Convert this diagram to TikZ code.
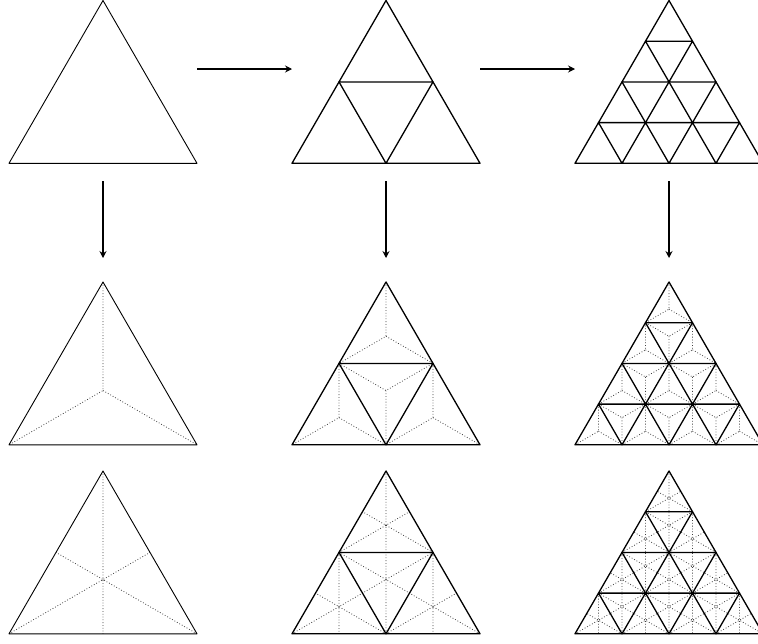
\documentclass[tikz,border=0pt]{standalone}
\usetikzlibrary{calc,arrows.meta}
\tikzset{
  edgeA/.style={line width=0.9pt, line join=round},
  edgeB/.style={line width=1.3pt, line join=round},
  dots/.style={dotted, line width=0.8pt, black!75},
  arr/.style={line width=1.4pt, -{Stealth[length=7pt,width=7pt,inset=2.5pt]}}
}
\newcommand\smalltri[7]{%
  \coordinate (p1) at (#1,#2);
  \coordinate (p2) at (#3,#4);
  \coordinate (p3) at (#5,#6);
  \ifcase#7\relax
  \or
    \draw[dots] (p1) -- (barycentric cs:p1=1,p2=1,p3=1) -- (p2)
                (barycentric cs:p1=1,p2=1,p3=1) -- (p3);
  \or
    \draw[dots] (p1) -- ($(p2)!0.5!(p3)$) (p2) -- ($(p1)!0.5!(p3)$)
                (p3) -- ($(p1)!0.5!(p2)$);
  \fi
}
% #1 apex x, #2 apex y, #3 n, #4 mode, #5 style of outline
\newcommand\mesh[5]{%
  \pgfmathsetmacro\mT{188/#3}%
  \pgfmathsetmacro\mG{162.8/#3}%
  \pgfmathtruncatemacro\nm{#3-1}%
  \foreach \i in {0,...,\nm}{%
    \foreach \j in {0,...,\i}{%
      \pgfmathsetmacro\mAx{#1+(\j-\i/2)*\mT}%
      \pgfmathsetmacro\mAy{#2+\i*\mG}%
      \pgfmathsetmacro\mBl{\mAx-\mT/2}%
      \pgfmathsetmacro\mBr{\mAx+\mT/2}%
      \pgfmathsetmacro\mBy{\mAy+\mG}%
      \smalltri{\mAx}{\mAy}{\mBl}{\mBy}{\mBr}{\mBy}{#4}%
      \draw[#5] (p1) -- (p2) -- (p3) -- cycle;
    }%
    \ifnum\i>0
      \pgfmathtruncatemacro\im{\i-1}%
      \foreach \j in {0,...,\im}{%
        \pgfmathsetmacro\mAx{#1+(\j-\i/2)*\mT}%
        \pgfmathsetmacro\mAy{#2+\i*\mG}%
        \pgfmathsetmacro\mBr{\mAx+\mT}%
        \pgfmathsetmacro\mBm{\mAx+\mT/2}%
        \pgfmathsetmacro\mBy{\mAy+\mG}%
        \smalltri{\mAx}{\mAy}{\mBr}{\mAy}{\mBm}{\mBy}{#4}%
      }%
    \fi
  }%
}
\begin{document}
\begin{tikzpicture}[x=1pt,y=-1pt]
  \clip (0,0) rectangle (758,643);
  \fill[white] (0,0) rectangle (758,643);
  % row 1
  \mesh{103}{0.5}{1}{0}{edgeA}
  \mesh{386}{0.5}{2}{0}{edgeB}
  \mesh{669}{0.5}{4}{0}{edgeB}
  % row 2
  \mesh{103}{282}{1}{1}{draw=none}
  \mesh{103}{282}{1}{0}{edgeA}
  \mesh{386}{282}{2}{1}{draw=none}
  \mesh{386}{282}{2}{0}{edgeB}
  \mesh{669}{282}{4}{1}{draw=none}
  \mesh{669}{282}{4}{0}{edgeB}
  % row 3
  \mesh{103}{471}{1}{2}{draw=none}
  \mesh{103}{471}{1}{0}{edgeA}
  \mesh{386}{471}{2}{2}{draw=none}
  \mesh{386}{471}{2}{0}{edgeB}
  \mesh{669}{471}{4}{2}{draw=none}
  \mesh{669}{471}{4}{0}{edgeB}
  % arrows
  \coordinate (h1s) at (197,69);
  \coordinate (h1e) at (292,69);
  \coordinate (h2s) at (480,69);
  \coordinate (h2e) at (575,69);
  \coordinate (v1s) at (103,181);
  \coordinate (v1e) at (103,258);
  \coordinate (v2s) at (386,181);
  \coordinate (v2e) at (386,258);
  \coordinate (v3s) at (669,181);
  \coordinate (v3e) at (669,258);
  \draw[arr] (h1s) -- (h1e);
  \draw[arr] (h2s) -- (h2e);
  \draw[arr] (v1s) -- (v1e);
  \draw[arr] (v2s) -- (v2e);
  \draw[arr] (v3s) -- (v3e);
\end{tikzpicture}
\end{document}
